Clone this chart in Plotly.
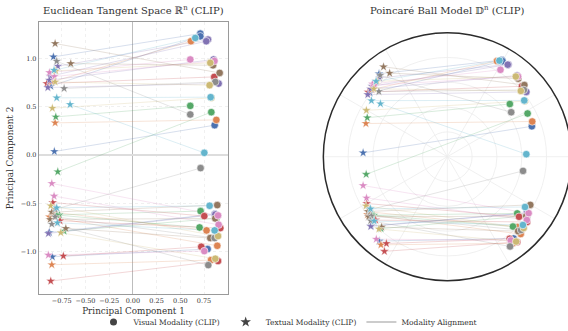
import numpy as np
import plotly.graph_objects as go

# ---------------- data ----------------
palette = ["#4C72B0", "#DD8452", "#55A868", "#C44E52", "#8172B3",
           "#937860", "#DA8BC3", "#8C8C8C", "#CCB974", "#64B5CD"]

pair_color = [0]*5 + [1]*5 + [2]*5 + [3]*5 + [4]*5 + [5]*5 + [6]*5 + [7]*5 + [8]*5 + [9]*5

text_x = [-0.838, -0.866, -0.828, -0.849, -0.880,
          -0.855, -0.820, -0.838, -0.880, -0.855,
          -0.813, -0.792, -0.775, -0.725, -0.800,
          -0.908, -0.845, -0.768, -0.733, -0.866,
          -0.792, -0.873, -0.880, -0.897, -0.891,
          -0.820, -0.655, -0.855, -0.873, -0.707,
          -0.880, -0.828, -0.855, -0.831, -0.891,
          -0.803, -0.725, -0.820, -0.820, -0.855,
          -0.813, -0.820, -0.849, -0.866, -0.760,
          -0.831, -0.803, -0.662, -0.803, -0.796]
text_y = [1.017, 0.714, 0.038, -1.052, -0.800,
          0.758, 0.334, -0.590, -0.638, -1.134,
          0.396, -0.172, -0.617, -0.786, -0.620,
          0.741, -0.490, -0.679, -1.044, -1.303,
          0.920, 0.817, 0.776, 0.700, -0.810,
          1.155, 0.948, -0.590, -0.665, -0.758,
          0.855, 0.814, -0.293, -0.424, -1.034,
          0.972, 0.690, -0.560, -0.638, -0.714,
          0.872, 0.758, 0.486, -0.524, -0.803,
          0.879, 0.593, 0.524, -0.545, -0.700]

vis_x = [0.711, 0.711, 0.862, 0.788, 0.865,
         0.612, 0.880, 0.777, 0.890, 0.824,
         0.605, 0.827, 0.714, 0.880, 0.703,
         0.858, 0.753, 0.922, 0.721, 0.898,
         0.792, 0.774, 0.851, 0.904, 0.869,
         0.915, 0.845, 0.890, 0.869, 0.816,
         0.605, 0.860, 0.898, 0.904, 0.753,
         0.605, 0.869, 0.714, 0.862, 0.795,
         0.816, 0.809, 0.827, 0.898, 0.869,
         0.658, 0.820, 0.753, 0.809, 0.862]
vis_y = [1.258, 1.230, 0.310, -0.972, -0.610,
         1.179, 0.365, -0.779, -0.938, -1.086,
         0.510, 0.445, -0.579, -0.655, -0.748,
         0.810, -0.631, -0.755, -0.948, -1.096,
         1.196, 1.179, 0.990, 0.741, -0.614,
         0.851, 0.930, -0.517, -0.655, -0.858,
         0.990, 0.975, -0.624, -0.720, -0.993,
         0.421, 0.758, -0.134, -0.858, -1.138,
         0.955, 0.724, 0.593, -0.838, -1.072,
         1.213, 0.600, 0.024, -0.524, -0.779]

x_ticks = [-0.75, -0.50, -0.25, 0.00, 0.25, 0.50, 0.75]
y_ticks = [-1.0, -0.5, 0.0, 0.5, 1.0]

# ---------------- exponential map to the Poincaré ball ----------------
def expmap(x, y):
    x = np.asarray(x); y = np.asarray(y)
    n = np.sqrt(x**2 + y**2)
    s = np.tanh(n) / n
    return x*s, y*s

ptx, pty = expmap(text_x, text_y)
pvx, pvy = expmap(vis_x, vis_y)

def rgba(h, a):
    h = h.lstrip("#")
    return "rgba(%d,%d,%d,%.2f)" % (int(h[0:2], 16), int(h[2:4], 16), int(h[4:6], 16), a)

def fmt(v, d):
    s = ("%." + str(d) + "f") % abs(v)
    return ("−" + s) if v < 0 else s

FONT = "DejaVu Serif"
fig = go.Figure()

# alignment lines, one trace per colour per panel
for c in range(10):
    idx = [i for i, k in enumerate(pair_color) if k == c]
    for (tx, ty, vx, vy, xa, ya) in [(text_x, text_y, vis_x, vis_y, "x", "y"),
                                     (ptx, pty, pvx, pvy, "x2", "y2")]:
        lx, ly = [], []
        for i in idx:
            lx += [tx[i], vx[i], None]
            ly += [ty[i], vy[i], None]
        fig.add_trace(go.Scatter(x=lx, y=ly, mode="lines", xaxis=xa, yaxis=ya,
                                 line=dict(color=rgba(palette[c], 0.32), width=0.7),
                                 showlegend=False, hoverinfo="skip"))

cols = [palette[k] for k in pair_color]
for (tx, ty, vx, vy, xa, ya) in [(text_x, text_y, vis_x, vis_y, "x", "y"),
                                 (ptx, pty, pvx, pvy, "x2", "y2")]:
    fig.add_trace(go.Scatter(x=list(tx), y=list(ty), mode="markers", xaxis=xa, yaxis=ya,
                             marker=dict(symbol="star", size=7, color=cols,
                                         line=dict(color="white", width=0.4)),
                             showlegend=False))
    fig.add_trace(go.Scatter(x=list(vx), y=list(vy), mode="markers", xaxis=xa, yaxis=ya,
                             marker=dict(symbol="circle", size=7.5, color=cols,
                                         line=dict(color="white", width=0.6)),
                             showlegend=False))

# legend entries
fig.add_trace(go.Scatter(x=[None], y=[None], mode="markers", name="Visual Modality (CLIP)",
                         marker=dict(symbol="circle", size=7, color="#444")))
fig.add_trace(go.Scatter(x=[None], y=[None], mode="markers", name="Textual Modality (CLIP)",
                         marker=dict(symbol="star", size=8, color="#444")))
fig.add_trace(go.Scatter(x=[None], y=[None], mode="lines", name="Modality Alignment",
                         line=dict(color="#999", width=1)))

# Poincaré disk grid and boundary
shapes = []
for r in [0.2, 0.4, 0.6, 0.8]:
    shapes.append(dict(type="circle", xref="x2", yref="y2", x0=-r, y0=-r, x1=r, y1=r,
                       line=dict(color="#ececec", width=0.8), layer="below"))
for ang in range(0, 360, 30):
    a = np.deg2rad(ang)
    shapes.append(dict(type="line", xref="x2", yref="y2", x0=0, y0=0,
                       x1=float(np.cos(a)), y1=float(np.sin(a)),
                       line=dict(color="#ececec", width=0.8), layer="below"))
shapes.append(dict(type="circle", xref="x2", yref="y2", x0=-1, y0=-1, x1=1, y1=1,
                   line=dict(color="#2b2b2b", width=1.5), layer="above"))

W, H = 568, 331
fig.update_layout(
    width=W, height=H, margin=dict(l=0, r=0, t=0, b=0, autoexpand=False),
    paper_bgcolor="white", plot_bgcolor="white",
    font=dict(family=FONT, size=9, color="#333"),
    shapes=shapes,
    xaxis=dict(domain=[39/W, 228/W], range=[-0.99, 1.003], automargin=False,
               tickvals=x_ticks, ticktext=[fmt(v, 2) for v in x_ticks], tickangle=0,
               showgrid=True, gridcolor="#f0f0f0", griddash="dot", gridwidth=0.7,
               zeroline=True, zerolinecolor="#bdbdbd", zerolinewidth=1,
               showline=True, mirror=True, linecolor="#9a9a9a", linewidth=1.4,
               ticks="", tickfont=dict(size=6.5), title=dict(text="Principal Component 1",
               font=dict(size=8.8, color="#333"), standoff=3)),
    yaxis=dict(domain=[37/H, 309/H], range=[-1.437, 1.378], automargin=False,
               tickvals=y_ticks, ticktext=[fmt(v, 1) for v in y_ticks], tickangle=0,
               showgrid=True, gridcolor="#f0f0f0", griddash="dot", gridwidth=0.7,
               zeroline=True, zerolinecolor="#dddddd", zerolinewidth=2,
               showline=True, mirror=True, linecolor="#9a9a9a", linewidth=1.4,
               ticks="", tickfont=dict(size=6.5), title=dict(text="Principal Component 2",
               font=dict(size=8.8, color="#333"), standoff=5)),
    xaxis2=dict(domain=[318/W, 1.0], range=[-1.043, 0.973], visible=False, automargin=False),
    yaxis2=dict(domain=[37/H, 309/H], range=[-1.107, 1.086], visible=False, automargin=False),
    legend=dict(orientation="h", x=288/W, xanchor="center", y=9/H, yanchor="middle",
                font=dict(size=7.5, color="#333"), itemwidth=30, bgcolor="rgba(0,0,0,0)"),
    annotations=[
        dict(text="Euclidean Tangent Space ℝ<sup>n</sup> (CLIP)", xref="paper", yref="paper",
             x=133.5/W, y=1-10/H, xanchor="center", yanchor="middle", showarrow=False,
             font=dict(size=10, color="#333")),
        dict(text="Poincaré Ball Model 𝔻<sup>n</sup> (CLIP)", xref="paper", yref="paper",
             x=447/W, y=1-10/H, xanchor="center", yanchor="middle", showarrow=False,
             font=dict(size=10, color="#333")),
    ],
)

fig.write_html("out.html", config={"displayModeBar": False},
               post_script="document.body.style.margin='0';")
